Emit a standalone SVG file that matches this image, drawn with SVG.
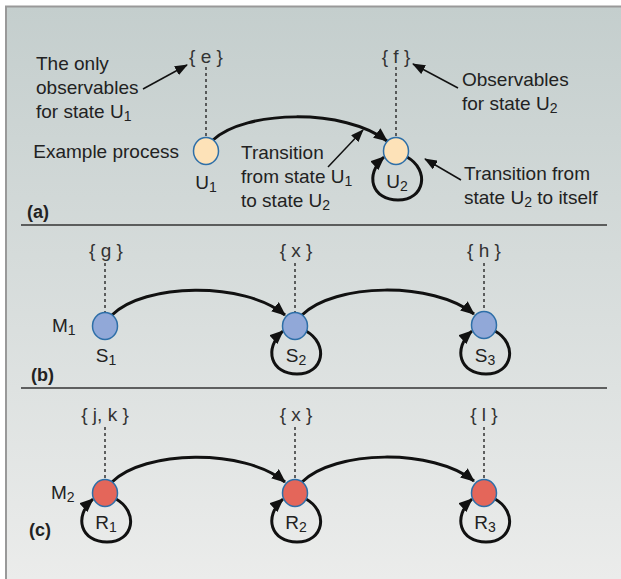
<svg xmlns="http://www.w3.org/2000/svg" width="621" height="579" viewBox="0 0 621 579">
<defs>
<linearGradient id="bg" x1="0" y1="0" x2="0" y2="1">
<stop offset="0" stop-color="#c4cecd"/>
<stop offset="1" stop-color="#ebeceb"/>
</linearGradient>
<marker id="ah" markerUnits="userSpaceOnUse" markerWidth="14" markerHeight="12" viewBox="0 0 14 12" refX="13" refY="6" orient="auto">
<path d="M0,0 L14,6 L0,12 Z" fill="#111"/>
</marker>
<marker id="ap" markerUnits="userSpaceOnUse" markerWidth="13" markerHeight="10" viewBox="0 0 13 10" refX="12" refY="5" orient="auto">
<path d="M0,0 L13,5 L0,10 Z" fill="#111"/>
</marker>
</defs>
<style>
text{font-family:"Liberation Sans",Arial,sans-serif;font-size:19px;fill:#222}
.m{text-anchor:middle}
.b{fill:#333}
.p{font-weight:bold;font-size:18px}
.sub{font-size:14px}
.dash{stroke:#333;stroke-width:1.5;stroke-dasharray:3 3;fill:none}
.edge{stroke:#111;stroke-width:3;fill:none;marker-end:url(#ah)}
.ptr{stroke:#111;stroke-width:1.5;fill:none;marker-end:url(#ap)}
.sep{stroke:#333;stroke-width:1.5}
.u{fill:#fde2b8;stroke:#2e6fa8;stroke-width:1.5}
.s{fill:#91a8d8;stroke:#2e6fa8;stroke-width:1.5}
.r{fill:#e4665a;stroke:#2e6fa8;stroke-width:1.5}
</style>
<rect x="5" y="6" width="616" height="573" fill="url(#bg)"/>
<line x1="5" y1="6.5" x2="621" y2="6.5" stroke="#999" stroke-width="2"/>
<line x1="6" y1="6" x2="6" y2="579" stroke="#999" stroke-width="2"/>
<line class="sep" x1="21" y1="225" x2="607" y2="225"/>
<line class="sep" x1="21" y1="388" x2="607" y2="388"/>

<g id="connectors">
<line class="dash" x1="206" y1="67" x2="206" y2="137"/>
<line class="dash" x1="396" y1="67" x2="396" y2="137"/>
<line class="dash" x1="105" y1="263" x2="105" y2="312"/>
<line class="dash" x1="295" y1="263" x2="295" y2="312"/>
<line class="dash" x1="484" y1="263" x2="484" y2="311"/>
<line class="dash" x1="105" y1="427" x2="105" y2="479"/>
<line class="dash" x1="295" y1="427" x2="295" y2="479"/>
<line class="dash" x1="484" y1="427" x2="484" y2="479"/>
<path class="edge" d="M213,140 C245,110 345,108 387,141"/>
<path class="edge" d="M407,157 C430,170 425,200 398,200 C372,200 364,175 384,157"/>
<path class="edge" d="M112,315 C144,283 244,281 285,315"/>
<path class="edge" d="M302,315 C334,283 433,281 474,314"/>
<path class="edge" d="M306,331 C329,344 324,374 297,374 C271,374 263,349 283,331"/>
<path class="edge" d="M495,331 C518,344 513,374 486,374 C460,374 452,349 472,331"/>
<path class="edge" d="M112,482 C144,450 244,448 285,482"/>
<path class="edge" d="M302,482 C334,450 433,448 474,481"/>
<path class="edge" d="M116,499 C139,512 134,542 107,542 C81,542 73,517 93,499"/>
<path class="edge" d="M306,499 C329,512 324,542 297,542 C271,542 263,517 283,499"/>
<path class="edge" d="M495,499 C518,512 513,542 486,542 C460,542 452,517 472,499"/>
<path class="ptr" d="M143,89 L187,65"/>
<path class="ptr" d="M458,88 L413,64"/>
<path class="ptr" d="M328,167 L363,130"/>
<path class="ptr" d="M461,180 L425,159"/>
</g>

<g id="labels-a">
<text x="36" y="70">The only</text>
<text x="36" y="94">observables</text>
<text x="36" y="118">for state U<tspan class="sub" dy="3">1</tspan></text>
<text x="179" y="158" text-anchor="end">Example process</text>
<text x="241" y="159">Transition</text>
<text x="241" y="183">from state U<tspan class="sub" dy="3">1</tspan></text>
<text x="241" y="207">to state U<tspan class="sub" dy="3">2</tspan></text>
<text x="462" y="86">Observables</text>
<text x="462" y="110">for state U<tspan class="sub" dy="3">2</tspan></text>
<text x="464" y="180">Transition from</text>
<text x="464" y="204">state U<tspan class="sub" dy="3">2</tspan><tspan dy="-3"> to itself</tspan></text>
<text class="p" x="27" y="218">(a)</text>
</g>

<g id="node-U1">
<text class="m b" x="206" y="63">{ e }</text>
<ellipse class="u" cx="206" cy="151" rx="12.5" ry="13.5"/>
<text class="m" x="206" y="189">U<tspan class="sub" dy="3">1</tspan></text>
</g>
<g id="node-U2">
<text class="m b" x="396" y="63">{ f }</text>
<ellipse class="u" cx="396" cy="151" rx="12.5" ry="13.5"/>
<text class="m" x="397" y="188">U<tspan class="sub" dy="3">2</tspan></text>
</g>

<g id="labels-b">
<text x="52" y="332">M<tspan class="sub" dy="3">1</tspan></text>
<text class="p" x="31" y="381">(b)</text>
</g>
<g id="node-S1">
<text class="m b" x="106" y="257">{ g }</text>
<ellipse class="s" cx="105" cy="326" rx="12.5" ry="13.5"/>
<text class="m" x="106" y="362">S<tspan class="sub" dy="3">1</tspan></text>
</g>
<g id="node-S2">
<text class="m b" x="296" y="257">{ x }</text>
<ellipse class="s" cx="295" cy="326" rx="12.5" ry="13.5"/>
<text class="m" x="296" y="362">S<tspan class="sub" dy="3">2</tspan></text>
</g>
<g id="node-S3">
<text class="m b" x="484" y="257">{ h }</text>
<ellipse class="s" cx="484" cy="325" rx="12.5" ry="13.5"/>
<text class="m" x="485" y="362">S<tspan class="sub" dy="3">3</tspan></text>
</g>

<g id="labels-c">
<text x="51" y="499">M<tspan class="sub" dy="3">2</tspan></text>
<text class="p" x="29" y="536">(c)</text>
</g>
<g id="node-R1">
<text class="m b" x="105" y="421">{ j, k }</text>
<ellipse class="r" cx="105" cy="493" rx="12.5" ry="13.5"/>
<text class="m" x="106" y="529">R<tspan class="sub" dy="3">1</tspan></text>
</g>
<g id="node-R2">
<text class="m b" x="296" y="421">{ x }</text>
<ellipse class="r" cx="295" cy="493" rx="12.5" ry="13.5"/>
<text class="m" x="296" y="529">R<tspan class="sub" dy="3">2</tspan></text>
</g>
<g id="node-R3">
<text class="m b" x="484" y="421">{ l }</text>
<ellipse class="r" cx="484" cy="493" rx="12.5" ry="13.5"/>
<text class="m" x="485" y="529">R<tspan class="sub" dy="3">3</tspan></text>
</g>
</svg>
